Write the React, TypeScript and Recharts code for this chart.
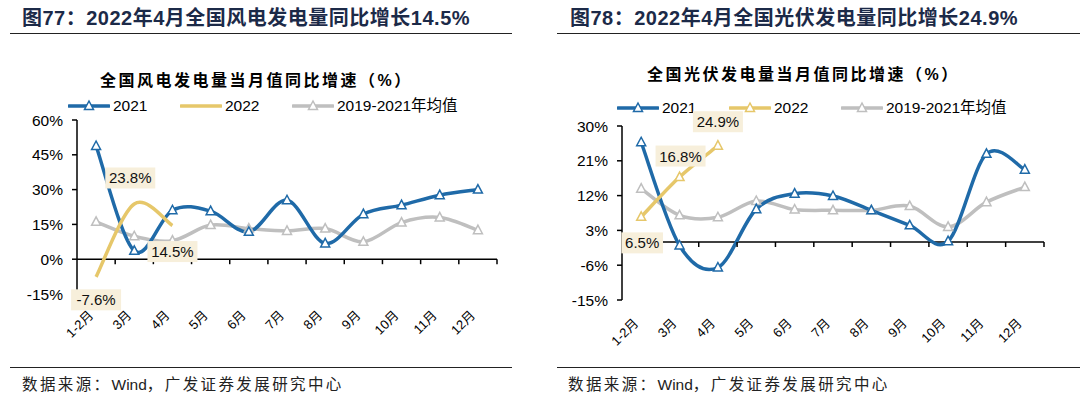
import React from 'react';
import { LineChart, Line, XAxis, YAxis, ReferenceLine, ReferenceDot, LabelList } from 'recharts';

const months = ['1-2月', '3月', '4月', '5月', '6月', '7月', '8月', '9月', '10月', '11月', '12月'];

// 全国风电发电量当月值同比增速（%）
const wind2021 = [48.8, 3.6, 21.1, 20.7, 11.8, 25.4, 6.8, 19.4, 23.3, 27.6, 30.0];
const wind2022 = [-7.6, 23.8, 14.5];
const windAvg = [16.1, 9.9, 8.0, 14.7, 13.2, 12.2, 13.2, 7.5, 15.8, 18.0, 12.5];
const windTicks = [-15, 0, 15, 30, 45, 60];

// 全国光伏发电量当月值同比增速（%）
const solar2021 = [25.8, -0.9, -6.6, 8.5, 12.5, 11.9, 8.2, 4.3, 0.2, 22.8, 18.7];
const solar2022 = [6.5, 16.8, 24.9];
const solarAvg = [13.8, 6.9, 6.4, 10.6, 8.4, 8.2, 8.2, 9.3, 3.9, 10.3, 14.2];
const solarTicks = [-15, -6, 3, 12, 21, 30];

const BLUE = '#1f6aa8';
const GOLD = '#e6c76a';
const GRAY = '#bfbfbf';
const LABEL_BG = '#f7efdb';
const FONT = "'Liberation Sans', Arial, 'Noto Sans CJK SC', sans-serif";

const buildRows = (a: number[], b: number[], avg: number[]) =>
  months.map((m, i) => ({ month: m, y2021: a[i], y2022: b[i] ?? null, avg: avg[i] }));

// excel style smoothed line (catmull-rom bezier)
const smooth = (context: any) => {
  let pts: number[][] = [];
  return {
    areaStart() {},
    areaEnd() {},
    lineStart() {
      pts = [];
    },
    point(x: number, y: number) {
      pts.push([+x, +y]);
    },
    lineEnd() {
      const n = pts.length;
      if (!n) return;
      context.moveTo(pts[0][0], pts[0][1]);
      for (let i = 0; i < n - 1; i++) {
        const p0 = pts[i - 1] || pts[i];
        const p1 = pts[i];
        const p2 = pts[i + 1];
        const p3 = pts[i + 2] || p2;
        context.bezierCurveTo(
          p1[0] + (p2[0] - p0[0]) / 6,
          p1[1] + (p2[1] - p0[1]) / 6,
          p2[0] - (p3[0] - p1[0]) / 6,
          p2[1] - (p3[1] - p1[1]) / 6,
          p2[0],
          p2[1]
        );
      }
    },
  };
};

const triangle = (color: string) => (props: any) => {
  const { cx, cy, index } = props;
  if (!Number.isFinite(cx) || !Number.isFinite(cy)) return <g key={`t-${index}`} />;
  return (
    <path
      key={`t-${index}`}
      d={`M${cx},${cy - 5} L${cx + 4.5},${cy + 3.5} L${cx - 4.5},${cy + 3.5} Z`}
      fill="#fff"
      stroke={color}
      strokeWidth={1.5}
    />
  );
};

const valueBox = (offsets: number[][]) => (props: any) => {
  const { x, y, value, index } = props;
  if (value == null || !Number.isFinite(x) || !Number.isFinite(y)) return null;
  const [dx, dy] = offsets[index] || [0, 0];
  const text = `${Number(value).toFixed(1)}%`;
  const w = text.length * 8.4 + 8;
  const cx = x + dx;
  const cy = y + dy;
  return (
    <g>
      <rect x={cx - w / 2} y={cy - 10.5} width={w} height={21} fill={LABEL_BG} />
      <text x={cx} y={cy + 5.5} textAnchor="middle" fontSize={15} fill="#111" fontFamily={FONT}>
        {text}
      </text>
    </g>
  );
};

const MonthTick = (props: any) => {
  const { x, y, payload, shift } = props;
  return (
    <g transform={`translate(${x - 2},${y + shift})`}>
      <text transform="rotate(-45)" textAnchor="end" fontSize={13} fill="#000" fontFamily={FONT}>
        {payload.value}
      </text>
    </g>
  );
};

interface PanelProps {
  rows: any[];
  ticks: number[];
  margin: { top: number; right: number; bottom: number; left: number };
  labelOffsets: number[][];
  goldDots: boolean;
  tickShift: number;
}

const Panel = ({ rows, ticks, margin, labelOffsets, goldDots, tickShift }: PanelProps) => {
  const plotW = 540 - margin.left - margin.right - 60;
  const pad = plotW / 22; // half a category step
  return (
    <LineChart width={540} height={399} data={rows} margin={margin}>
      <XAxis
        dataKey="month"
        axisLine={false}
        tickLine={false}
        interval={0}
        height={40}
        padding={{ left: pad, right: pad }}
        tick={<MonthTick shift={tickShift} />}
      />
      <YAxis
        width={60}
        domain={[ticks[0], ticks[ticks.length - 1]]}
        ticks={ticks}
        interval={0}
        allowDataOverflow
        tickFormatter={(v: number) => `${v}%`}
        axisLine={{ stroke: '#000', strokeWidth: 1.5 }}
        tickLine={{ stroke: '#000', strokeWidth: 1.5 }}
        tickSize={5}
        tickMargin={9}
        tick={{ fill: '#000', fontSize: 15.5, fontFamily: FONT }}
      />
      <ReferenceLine y={0} stroke="#000" strokeWidth={1.5} />
      {/* category boundary ticks on the 0% line, right edge of each category */}
      {months.map((m) => (
        <ReferenceDot
          key={m}
          x={m}
          y={0}
          ifOverflow="visible"
          shape={(p: any) =>
            Number.isFinite(p.cx) ? (
              <line x1={p.cx + pad} y1={p.cy} x2={p.cx + pad} y2={p.cy + 5} stroke="#000" strokeWidth={1.5} />
            ) : (
              <g />
            )
          }
        />
      ))}
      <Line
        dataKey="avg"
        type={smooth as any}
        stroke={GRAY}
        strokeWidth={3.5}
        dot={triangle(GRAY)}
        activeDot={false}
        isAnimationActive={false}
      />
      <Line
        dataKey="y2021"
        type={smooth as any}
        stroke={BLUE}
        strokeWidth={3.5}
        dot={triangle(BLUE)}
        activeDot={false}
        isAnimationActive={false}
      />
      <Line
        dataKey="y2022"
        type={smooth as any}
        stroke={GOLD}
        strokeWidth={3.5}
        dot={goldDots ? triangle(GOLD) : false}
        activeDot={false}
        isAnimationActive={false}
      >
        <LabelList dataKey="y2022" content={valueBox(labelOffsets)} />
      </Line>
    </LineChart>
  );
};

const LegendItem = ({ x, y, color, marker, label }: any) => (
  <div style={{ position: 'absolute', left: x, top: y - 9, display: 'flex', alignItems: 'center', whiteSpace: 'nowrap' }}>
    <svg width={42} height={18}>
      <line x1={1} y1={9} x2={41} y2={9} stroke={color} strokeWidth={3.5} strokeLinecap="round" />
      {marker && <path d="M21,4 L25.5,12.5 L16.5,12.5 Z" fill="#fff" stroke={color} strokeWidth={1.5} />}
    </svg>
    <span style={{ fontSize: 15.5, marginLeft: 3, color: '#000', lineHeight: '18px' }}>{label}</span>
  </div>
);

const text = (style: React.CSSProperties, content: React.ReactNode) => (
  <div style={{ position: 'absolute', whiteSpace: 'nowrap', lineHeight: 1, ...style }}>{content}</div>
);

const Source = ({ left }: { left: number }) =>
  text(
    { left, top: 377, fontSize: 15.5, color: '#222', letterSpacing: 2.4 },
    <>
      数据来源：<span style={{ letterSpacing: 0 }}>Wind</span>，广发证券发展研究中心
    </>
  );

export default function App() {
  return (
    <div
      style={{
        position: 'absolute',
        left: 0,
        top: 0,
        width: 1080,
        height: 399,
        background: '#fff',
        overflow: 'hidden',
        fontFamily: FONT,
      }}
    >
      {/* left */}
      {text({ left: 22, top: 8, fontSize: 20, fontWeight: 700, color: '#1c2a48', letterSpacing: 0.5 }, '图77：2022年4月全国风电发电量同比增长14.5%')}
      <div style={{ position: 'absolute', left: 10, top: 33, width: 502, borderTop: '1.5px solid #222' }} />
      {text({ left: 100, top: 73, fontSize: 16, fontWeight: 700, color: '#000', letterSpacing: 2.5 }, '全国风电发电量当月值同比增速（%）')}
      <LegendItem x={68} y={106} color={BLUE} marker label="2021" />
      <LegendItem x={180} y={106} color={GOLD} marker={false} label="2022" />
      <LegendItem x={292} y={106} color={GRAY} marker label="2019-2021年均值" />
      <div style={{ position: 'absolute', left: 0, top: 0 }}>
        <Panel
          rows={buildRows(wind2021, wind2022, windAvg)}
          ticks={windTicks}
          margin={{ top: 120, right: 43, bottom: 65, left: 17 }}
          labelOffsets={[[0, 23], [-4, -26], [0, 26]]}
          goldDots={false}
          tickShift={14}
        />
      </div>
      <div style={{ position: 'absolute', left: 10, top: 367, width: 502, borderTop: '1.5px solid #222' }} />
      <Source left={22} />

      {/* right */}
      {text({ left: 570, top: 8, fontSize: 20, fontWeight: 700, color: '#1c2a48', letterSpacing: 0.5 }, '图78：2022年4月全国光伏发电量同比增长24.9%')}
      <div style={{ position: 'absolute', left: 557, top: 33, width: 523, borderTop: '1.5px solid #222' }} />
      {text({ left: 647, top: 67, fontSize: 16, fontWeight: 700, color: '#000', letterSpacing: 2.5 }, '全国光伏发电量当月值同比增速（%）')}
      <LegendItem x={617} y={108} color={BLUE} marker label="2021" />
      <LegendItem x={729} y={108} color={GOLD} marker label="2022" />
      <LegendItem x={841} y={108} color={GRAY} marker label="2019-2021年均值" />
      <div style={{ position: 'absolute', left: 540, top: 0 }}>
        <Panel
          rows={buildRows(solar2021, solar2022, solarAvg)}
          ticks={solarTicks}
          margin={{ top: 126, right: 36, bottom: 59, left: 22 }}
          labelOffsets={[[1, 26], [1, -21], [0, -24]]}
          goldDots
          tickShift={16}
        />
      </div>
      <div style={{ position: 'absolute', left: 557, top: 367, width: 523, borderTop: '1.5px solid #222' }} />
      <Source left={568} />
    </div>
  );
}
